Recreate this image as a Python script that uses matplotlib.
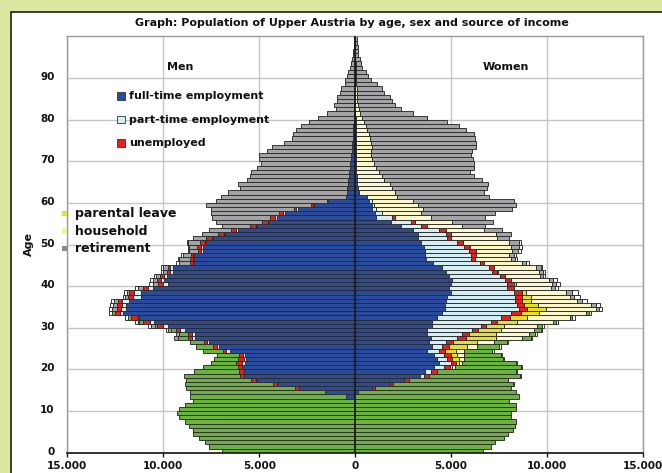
import numpy as np
import matplotlib
matplotlib.use("Agg")
import matplotlib.pyplot as plt
from matplotlib.patches import Rectangle
from matplotlib.ticker import FuncFormatter, FixedLocator

plt.rcParams['font.family'] = ['DejaVu Sans']
plt.rcParams['font.weight'] = 'bold'

ages = list(range(100))

categories = ['full-time employment', 'part-time employment', 'unemployed',
              'parental leave', 'household', 'education', 'retirement', 'other']

# ---------------- Men ----------------
m_ft = ([0] * 10 +
        [0, 0, 0, 490, 1580, 2920, 4050, 5090, 5780, 5780] +
        [5900, 5730, 5690, 5730, 6530, 7080, 7600, 8350, 8330, 8850] +
        [9770, 10500, 11250, 12120, 11940, 11940, 11770, 11160, 11160, 10520] +
        [9770, 9950, 9830, 9510, 9510, 8390, 8390, 8390, 7950, 7950] +
        [7780, 7430, 6790, 6130, 5090, 4480, 4050, 3650, 3000, 2140] +
        [1440, 490, 400, 400, 380, 350, 320, 300, 270, 250] +
        [220, 200, 180, 150, 140, 120, 110, 100, 90, 80] +
        [70, 60, 50, 50, 40, 40, 30, 30, 20, 20] +
        [0] * 10)
m_pt = ([0] * 10 +
        [0, 0, 0, 0, 0, 0, 0, 90, 0, 0] +
        [0, 170, 100, 100, 200, 140, 100, 160, 170, 280] +
        [230, 190, 90, 120, 260, 210, 400, 420, 380, 300] +
        [230, 170, 120, 140, 130, 80, 80, 50, 90, 100] +
        [40, 40, 70, 70, 90, 40, 120, 100, 60, 60] +
        [40] + [0] * 39)
m_u = ([0] * 10 +
       [0, 0, 0, 0, 0, 200, 210, 260, 230, 260] +
       [220, 310, 300, 220, 170, 170, 170, 200, 220, 210] +
       [330, 370, 340, 290, 230, 280, 210, 260, 230, 260] +
       [260, 180, 220, 180, 130, 120, 120, 120, 170, 210] +
       [270, 310, 290, 290, 290, 340, 260, 210, 120, 80] +
       [0] * 40)
m_pl = [0] * 100
m_hh = [0] * 100
m_edu = ([6960, 7590, 7850, 8160, 8440, 8470, 8680, 8890, 9170, 9270] +
         [9200, 8890, 8470, 8100, 7010, 5700, 4590, 3380, 2930, 2360] +
         [1810, 1310, 1250, 1150, 1020, 910, 720, 540, 450, 240] +
         [120, 190, 180, 140] + [0] * 66)
m_ret = ([0] * 20 +
         [0, 0, 0, 0, 0, 0, 0, 210, 170, 150] +
         [190, 90, 0, 0, 240, 210, 210, 140, 100, 260] +
         [300, 260, 210, 170, 230, 610, 580, 400, 440, 390] +
         [640, 690, 840, 1110, 1470, 2400, 3040, 3560, 4340, 5500] +
         [5780, 6520, 6250, 5600, 5700, 5290, 5170, 5130, 4850, 4660] +
         [4810, 4800, 4390, 4190, 3560, 3180, 3120, 2960, 2740, 2320] +
         [1860, 1430, 950, 1040, 930, 910, 770, 720, 520, 500] +
         [430, 350, 280, 230, 140, 100, 90, 70, 50, 50])
m_oth = ([0] * 20 +
         [0, 0, 0, 0, 0, 0, 0, 0, 0, 130] +
         [180, 120, 150, 180, 140, 140, 140, 140, 160, 150] +
         [170, 130, 120, 120, 120, 140, 80, 120, 80, 80] +
         [50] + [0] * 49)

# ---------------- Women ----------------
w_ft = ([0] * 10 +
        [0, 0, 0, 0, 170, 900, 1810, 2550, 3370, 3650] +
        [4110, 4380, 4240, 4110, 3720, 4030, 3850, 3940, 3720, 3770] +
        [4030, 4030, 4290, 4510, 4690, 4690, 4720, 4810, 4980, 4900] +
        [4980, 5030, 4900, 4720, 4510, 4080, 3680, 3650, 3650, 3590] +
        [3420, 3300, 3250, 2990, 2380, 1860, 1080, 1040, 900, 870] +
        [730, 640, 210, 150, 120, 100, 80, 70, 60, 50] +
        [50, 40, 40, 40, 40, 30, 30, 30, 20, 20] +
        [20, 10, 10, 10, 0, 0, 0, 0, 0, 0] +
        [0] * 10)
w_pt = ([0] * 10 +
        [0, 0, 0, 0, 0, 0, 0, 0, 220, 290] +
        [530, 600, 570, 530, 660, 520, 870, 1390, 1870, 2340] +
        [2520, 3040, 3300, 3590, 3850, 3760, 3600, 3510, 3300, 3030] +
        [2950, 2780, 2650, 2430, 2470, 2430, 2340, 2370, 2290, 2090] +
        [1910, 1510, 1510, 1390, 1040, 1040, 860, 380, 180, 120] +
        [170] + [0] * 39)
w_u = ([0] * 10 +
       [0, 0, 0, 0, 0, 140, 170, 260, 260, 300] +
       [290, 300, 260, 340, 310, 350, 400, 430, 350, 310] +
       [260, 340, 470, 530, 440, 350, 360, 360, 400, 350] +
       [350, 300, 260, 260, 260, 210, 230, 260, 340, 290] +
       [310, 170, 220, 340, 310, 230, 140, 0, 0, 0] +
       [0] * 40)
w_pl = ([0] * 20 +
        [140, 140, 350, 350, 550, 950, 1250, 1570, 1390, 1170] +
        [950, 1040, 920, 950, 950, 730, 470, 470, 210, 0] +
        [90, 0, 0, 50] + [0] * 56)
w_hh = ([0] * 20 +
        [140, 170, 260, 350, 440, 520, 870, 1390, 1740, 1730] +
        [1740, 1860, 2220, 2470, 2640, 2780, 2430, 2060, 2080, 1950] +
        [1870, 1990, 1800, 2120, 2170, 2000, 1860, 1740, 1880, 2140] +
        [2380, 2430, 2350, 2000, 1860, 1940, 1860, 2000, 2460, 2260] +
        [2090, 1560, 1870, 1790, 1690, 1410, 1310, 1180, 1020, 940] +
        [850, 780, 780, 830, 780, 730, 700, 610, 540, 450] +
        [330, 250, 200, 160, 120, 110, 90, 80, 70, 50] +
        [40, 30, 20, 20, 10, 10, 10, 10, 0, 0])
w_edu = ([6680, 7070, 7270, 7760, 7990, 8230, 8320, 8400, 8110, 8140] +
         [8400, 8370, 8020, 8540, 8200, 7070, 6250, 5150, 4730, 4130] +
         [3420, 2780, 2030, 1910, 1470, 1130, 690, 430, 310, 350] +
         [220, 180, 120, 140] + [0] * 66)
w_ret = ([0] * 30 +
         [0, 0, 0, 0, 140, 220, 260, 210, 350, 170] +
         [210, 230, 200, 210, 260, 180, 220, 260, 340, 430] +
         [520, 610, 780, 950, 1180, 2120, 2830, 3870, 4650, 5120] +
         [5290, 4780, 4640, 4950, 5130, 5120, 4810, 4720, 5120, 5210] +
         [5250, 5200, 5260, 5450, 5500, 5490, 5470, 5120, 4860, 4340] +
         [3420, 2760, 2170, 1910, 1790, 1690, 1420, 1310, 1090, 770] +
         [650, 530, 360, 280, 230, 160, 160, 130, 120, 100])
w_oth = ([0] * 10 +
         [0, 0, 0, 0, 0, 0, 50, 30, 50, 80] +
         [90, 80, 50, 80, 90, 90, 60, 50, 120, 90] +
         [120, 100, 140, 80, 170, 210, 260, 280, 310, 170] +
         [210, 170, 90, 110, 90, 160, 90, 90, 130, 140] +
         [90] + [0] * 49)

x_ticks = [-15000, -10000, -5000, 0, 5000, 10000, 15000]
y_ticks = [0, 10, 20, 30, 40, 50, 60, 70, 80, 90]

colors = ['#2a4b9b', '#d3eef4', '#e3201f', '#e5df2c', '#fcf8cc',
          '#6cb23e', '#a4a4a7', '#ffffff']

W, H = 662, 473


def fx(x):
    return x / W


def fy(y):
    return 1 - y / H


fig = plt.figure(figsize=(W / 100, H / 100), dpi=100)
fig.patch.set_facecolor('#dce8a2')
fig.add_artist(Rectangle((fx(10.7), -0.05), 1.2, fy(11.7) + 0.05,
                         transform=fig.transFigure, facecolor='white',
                         edgecolor='#1e1e1e', lw=1.2, zorder=0))

ax = fig.add_axes([fx(67.3), fy(452.7), fx(643 - 67.3), (452.7 - 36.5) / H])
ax.set_facecolor('white')

men = [m_ft, m_pt, m_u, m_pl, m_hh, m_edu, m_ret, m_oth]
women = [w_ft, w_pt, w_u, w_pl, w_hh, w_edu, w_ret, w_oth]
ages_arr = np.array(ages)

for side, sign in ((men, -1), (women, 1)):
    cum = np.zeros(len(ages))
    for vals, col in zip(side, colors):
        v = np.array(vals, dtype=float)
        m = v > 0
        if m.any():
            ax.barh(ages_arr[m], sign * v[m], left=sign * cum[m], height=1.0,
                    color=col, edgecolor='#2b2b2b', linewidth=0.65, zorder=2)
        cum += v

ax.axvline(0, color='#1c1c1c', lw=1.3, zorder=3)

ax.set_xlim(-15000, 15000)
ax.set_ylim(-0.5, 99.5)
ax.set_xticks(x_ticks)
ax.xaxis.set_major_formatter(FuncFormatter(lambda v, p: f"{abs(int(v)):,}".replace(',', '.')))
ax.set_yticks(y_ticks)
ax.yaxis.set_minor_locator(FixedLocator([t - 0.5 for t in y_ticks[1:]]))
ax.grid(axis='x', which='major', color='#c6c6c6', lw=1.0, zorder=0)
ax.grid(axis='y', which='minor', color='#c6c6c6', lw=1.0, zorder=0)
ax.set_axisbelow(True)

for s in ('left', 'top', 'right'):
    ax.spines[s].set_color('#9a9a9a')
    ax.spines[s].set_linewidth(1.0)
ax.spines['bottom'].set_color('#111111')
ax.spines['bottom'].set_linewidth(1.2)

ax.tick_params(axis='x', direction='out', length=3, width=1, pad=3,
               labelsize=7.5, colors='#111111')
ax.tick_params(axis='y', which='both', length=0, pad=9, labelsize=7.5,
               colors='#111111')
for lab in ax.get_xticklabels() + ax.get_yticklabels():
    lab.set_fontweight('bold')

fig.text(fx(352), fy(23.5), 'Graph: Population of Upper Austria by age, sex and source of income',
         ha='center', va='center', fontsize=8, fontweight='bold', color='#111111')
fig.text(fx(29), fy(244), 'Age', rotation=90, ha='center', va='center',
         fontsize=8, fontweight='bold', color='#111111')
fig.text(fx(180.5), fy(67.3), 'Men', ha='center', va='center',
         fontsize=8, fontweight='bold', color='#111111')
fig.text(fx(483), fy(67.3), 'Women', ha='left', va='center',
         fontsize=8, fontweight='bold', color='#111111')

# legend inside plot (full-time, part-time, unemployed)
for i in range(3):
    yc = 96.2 + 23.5 * i
    fig.add_artist(Rectangle((fx(117.3), fy(yc + 3.8)), 7.6 / W, 7.6 / H,
                             transform=fig.transFigure, facecolor=colors[i],
                             edgecolor='#333333', lw=0.6, zorder=5))
    fig.text(fx(129), fy(yc), categories[i], ha='left', va='center',
             fontsize=8, fontweight='bold', color='#111111', zorder=5)

# legend at left edge (parental leave, household, retirement)
leg2 = [(3, '#e4df3a'), (4, '#f3efa6'), (6, '#8a8a8a')]
for i, (ci, col) in enumerate(leg2):
    yc = 213.3 + 17.7 * i
    fig.add_artist(Rectangle((fx(61.7), fy(yc + 2.6)), 5.2 / W, 5.2 / H,
                             transform=fig.transFigure, facecolor=col,
                             edgecolor='none', zorder=5))
    fig.text(fx(75), fy(yc), categories[ci], ha='left', va='center',
             fontsize=9, fontweight='bold', color='#111111', zorder=5)

fig.savefig('out.png', dpi=100, facecolor=fig.get_facecolor())
